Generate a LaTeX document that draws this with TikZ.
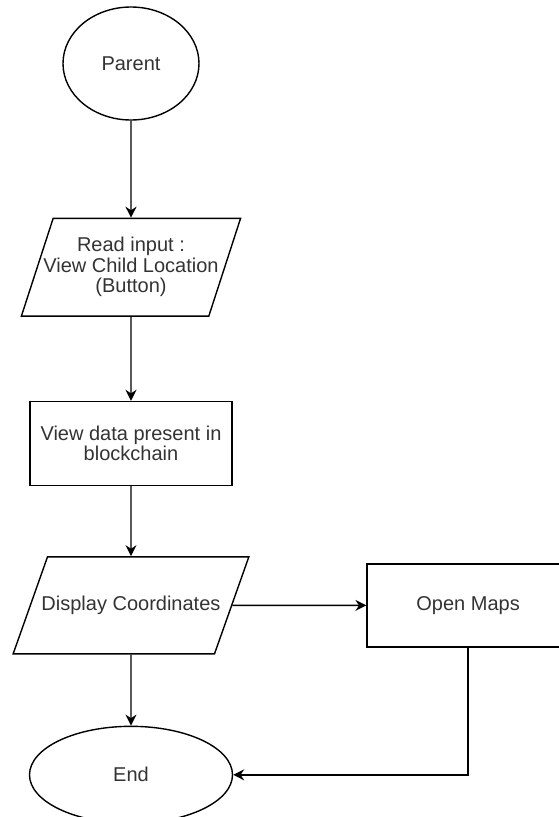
\documentclass[tikz,border=0pt]{standalone}
\usepackage{fontspec}
\setsansfont{Liberation Sans}
\usetikzlibrary{positioning,shapes.geometric,arrows.meta}

\begin{document}
\begin{tikzpicture}[>={Stealth[length=11pt,width=11pt]},line width=1.4pt,
    every node/.style={font=\sffamily\fontsize{20}{20.5}\selectfont,text=black!80,align=center},
    term node/.style={ellipse,draw},
    io node/.style={trapezium,trapezium left angle=#1,trapezium right angle=180-#1,draw},
    proc node/.style={rectangle,draw,minimum width=202pt}]
	\useasboundingbox (-131pt,63.5pt) rectangle (428pt,-753.5pt);

	\node[term node,minimum width=136pt,minimum height=113pt] (1) {Parent};
	\node[io node=72,inner xsep=-9.8pt,inner ysep=19pt] (2) [below=97pt of 1] {Read input :\\View Child Location\\(Button)};
	\node[proc node,minimum height=84pt] (3) [below=84pt of 2] {View data present in\\blockchain};
	\node[io node=70.5,inner xsep=-6pt,inner ysep=39.2pt] (4) [below=70pt of 3] {Display Coordinates};
	\node[proc node,minimum height=83pt] (5) [right=134pt of 4] {Open Maps};
	\node[term node,minimum width=203pt,minimum height=97pt] (6) [below=71pt of 4] {End};

	\path[->]
		(1) edge (2)
		(2) edge (3)
		(3) edge (4)
		(4) edge (5)
			edge (6);
	\draw[->] (5) |- (6);

\end{tikzpicture}
\end{document}
